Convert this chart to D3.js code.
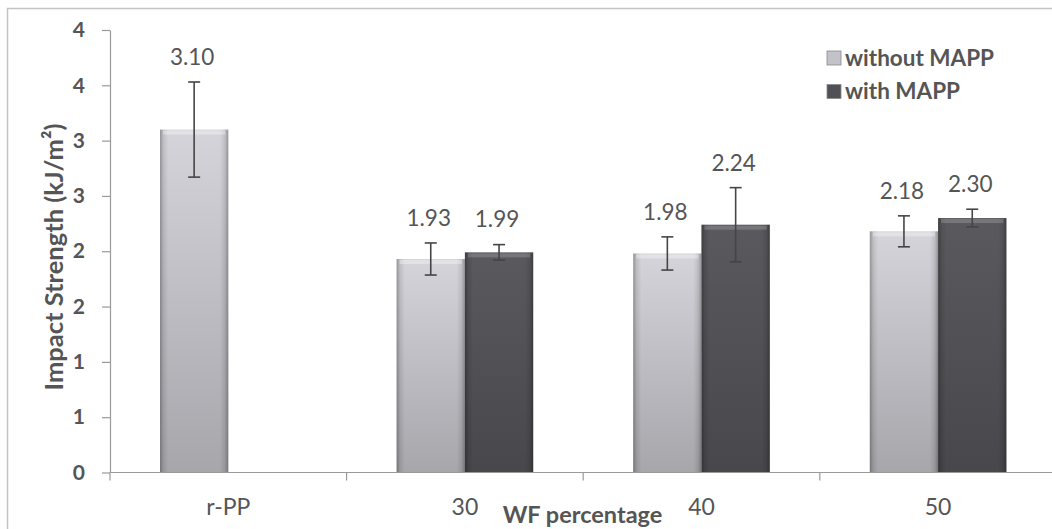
<!DOCTYPE html>
<html>
<head>
<meta charset="utf-8">
<script src="https://cdn.jsdelivr.net/npm/d3@7"></script>
<style>
  html, body { margin: 0; padding: 0; background: #fff; }
  svg { display: block; font-family: Lato, "Open Sans", sans-serif; }
</style>
</head>
<body>
<svg id="chart" width="1052" height="529"></svg>
<script>
const categories = ["r-PP", "30", "40", "50"];
const seriesNames = ["without MAPP", "with MAPP"];
const withoutMAPP = [3.10, 1.93, 1.98, 2.18];
const withMAPP = [null, 1.99, 2.24, 2.30];
const withoutErr = [0.43, 0.145, 0.15, 0.14];
const withErr = [null, 0.07, 0.335, 0.08];
const yTickValues = [0, 0.5, 1, 1.5, 2, 2.5, 3, 3.5, 4];
const yTickLabels = ["0", "1", "1", "2", "2", "3", "3", "4", "4"];

const svg = d3.select("#chart");
const textColor = "#555555";
const axisColor = "#9a9a9a";

// gradients
const defs = svg.append("defs");
function makeGrad(id, top, bottom) {
  const g = defs.append("linearGradient").attr("id", id)
    .attr("x1", 0).attr("y1", 0).attr("x2", 0).attr("y2", 1);
  g.append("stop").attr("offset", "0%").attr("stop-color", top);
  g.append("stop").attr("offset", "100%").attr("stop-color", bottom);
}
makeGrad("gLight", "#d4d4da", "#a6a6ab");
makeGrad("gDark", "#59595e", "#48484c");
const edge = defs.append("linearGradient").attr("id", "gEdge")
  .attr("x1", 0).attr("y1", 0).attr("x2", 1).attr("y2", 0);
[["0%", 0.3], ["5%", 0.1], ["12%", 0], ["88%", 0], ["95%", 0.1], ["100%", 0.3]].forEach(([o, a]) =>
  edge.append("stop").attr("offset", o).attr("stop-color", "#000").attr("stop-opacity", a));

const fills = { "without MAPP": "url(#gLight)", "with MAPP": "url(#gDark)" };
const legendFills = { "without MAPP": "#c2c2c8", "with MAPP": "#505055" };

// chart outline
svg.append("rect").attr("x", 7.5).attr("y", 8.5).attr("width", 1070).attr("height", 540)
  .attr("fill", "none").attr("stroke", "#c4c4c4").attr("stroke-width", 1.5);

// scales
const x0 = d3.scaleBand().domain(categories).range([110, 1056.4]).paddingInner(0).paddingOuter(0);
const x1 = d3.scaleBand().domain(seriesNames).range([0, x0.bandwidth()]).paddingInner(0).paddingOuter(0.732);
const y = d3.scaleLinear().domain([0, 4]).range([472.5, 30]);

// y axis
const yAxis = svg.append("g").attr("transform", "translate(110,0)")
  .call(d3.axisLeft(y).tickValues(yTickValues).tickFormat((d, i) => yTickLabels[i])
    .tickSize(8).tickSizeOuter(0).tickPadding(17));
yAxis.selectAll("path,line").attr("stroke", axisColor).attr("stroke-width", 1.2);
yAxis.selectAll("text").attr("fill", textColor).attr("font-size", 21).attr("font-weight", "bold")
  .attr("font-family", "Lato, sans-serif");

// bars data
const bars = [];
categories.forEach((c, i) => {
  if (withoutMAPP[i] != null) bars.push({ cat: c, s: "without MAPP", v: withoutMAPP[i], e: withoutErr[i] });
  if (withMAPP[i] != null) bars.push({ cat: c, s: "with MAPP", v: withMAPP[i], e: withErr[i] });
});

const bw = x1.bandwidth();
const g = svg.append("g");
const bg = g.selectAll("g.bar").data(bars).join("g").attr("class", "bar");
bg.append("rect")
  .attr("x", d => x0(d.cat) + x1(d.s)).attr("y", d => y(d.v))
  .attr("width", bw).attr("height", d => y(0) - y(d.v))
  .attr("fill", d => fills[d.s]);
bg.append("rect")
  .attr("x", d => x0(d.cat) + x1(d.s)).attr("y", d => y(d.v))
  .attr("width", bw).attr("height", d => y(0) - y(d.v))
  .attr("fill", "url(#gEdge)");
bg.append("rect")
  .attr("x", d => x0(d.cat) + x1(d.s) + 3).attr("y", d => y(d.v) + 1)
  .attr("width", bw - 6).attr("height", 4)
  .attr("fill", "#fff").attr("fill-opacity", d => d.s === "with MAPP" ? 0.18 : 0.35);

// x axis line & ticks
svg.append("line").attr("x1", 110).attr("x2", 1052).attr("y1", y(0)).attr("y2", y(0))
  .attr("stroke", axisColor).attr("stroke-width", 1.2);
svg.append("g").selectAll("line").data(categories).join("line")
  .attr("x1", d => x0(d)).attr("x2", d => x0(d))
  .attr("y1", y(0)).attr("y2", y(0) + 8)
  .attr("stroke", axisColor).attr("stroke-width", 1.2);
const xAxis = svg.append("g").attr("transform", `translate(0,${y(0)})`)
  .call(d3.axisBottom(x0).tickSize(0).tickSizeOuter(0));
xAxis.select("path").remove();
xAxis.selectAll("text").attr("y", 34).attr("dy", "0.35em")
  .attr("fill", textColor).attr("font-size", 23).attr("font-family", "Lato, sans-serif");

// error bars
const eg = svg.append("g").attr("stroke", "#454545").attr("stroke-width", 1.6);
bars.forEach(d => {
  const cx = x0(d.cat) + x1(d.s) + bw / 2;
  const yt = y(d.v + d.e), yb = y(d.v - d.e);
  eg.append("line").attr("x1", cx).attr("x2", cx).attr("y1", yt).attr("y2", yb);
  eg.append("line").attr("x1", cx - 6).attr("x2", cx + 6).attr("y1", yt).attr("y2", yt);
  eg.append("line").attr("x1", cx - 6).attr("x2", cx + 6).attr("y1", yb).attr("y2", yb);
});

// data labels
svg.append("g").selectAll("text").data(bars).join("text")
  .attr("x", d => x0(d.cat) + x1(d.s) + bw / 2 - 2)
  .attr("y", d => y(d.v + d.e) - 25)
  .attr("dy", "0.35em").attr("text-anchor", "middle")
  .attr("fill", textColor).attr("font-size", 22.5)
  .text(d => d.v.toFixed(2));

// axis titles
svg.append("text").attr("transform", "translate(54,257) rotate(-90)")
  .attr("text-anchor", "middle").attr("dy", "0.35em")
  .attr("fill", textColor).attr("font-size", 25.5).attr("font-weight", "bold")
  .text("Impact Strength (kJ/m²)");
svg.append("text").attr("x", 582.5).attr("y", 515).attr("dy", "0.35em")
  .attr("text-anchor", "middle")
  .attr("fill", textColor).attr("font-size", 23.5).attr("font-weight", "bold")
  .text("WF percentage");

// legend
const lg = svg.append("g").selectAll("g").data(seriesNames).join("g")
  .attr("transform", (d, i) => `translate(827,${58 + i * 33.5})`);
lg.append("rect").attr("x", 0).attr("y", -7).attr("width", 14).attr("height", 14)
  .attr("fill", d => legendFills[d]).attr("stroke", "#8a8a8a").attr("stroke-width", 0.8);
lg.append("text").attr("x", 18).attr("dy", "0.35em")
  .attr("fill", textColor).attr("font-size", 22.5).attr("font-weight", "bold")
  .text(d => d);
</script>
</body>
</html>
